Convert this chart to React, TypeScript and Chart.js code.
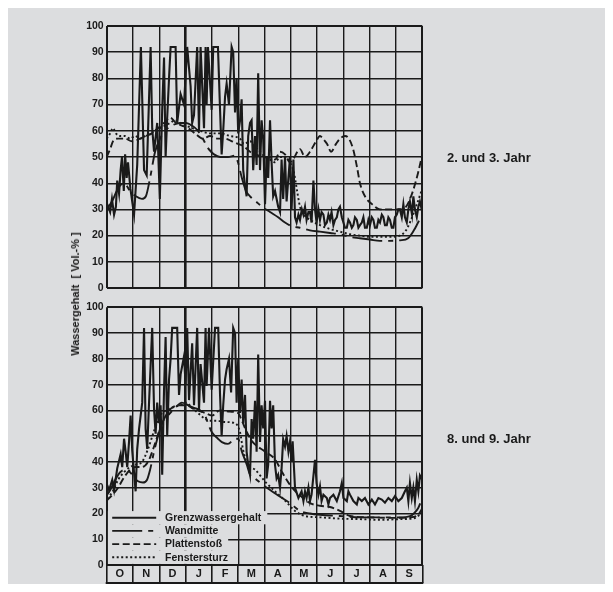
import React, { useEffect, useRef } from "react";
import { Chart, registerables } from "chart.js";
Chart.register(...registerables);

const FONT = "'Liberation Sans', Arial, Helvetica, sans-serif";
const INK = "#1a1a1a";
const BG = "#dcdddf";

// ---- labels ----
const monthLabels = ["O", "N", "D", "J", "F", "M", "A", "M", "J", "J", "A", "S"];
const panelTitles = ["2. und 3. Jahr", "8. und 9. Jahr"];
const seriesNames = ["Grenzwassergehalt", "Wandmitte", "Plattenstoß", "Fenstersturz"];
const yAxisTitle = "Wassergehalt  [ Vol.-% ]";
const yMin = 0;
const yMax = 100;
const yStep = 10;

// ---- data: [position in months from 1 Oct, water content Vol.-%] ----
const grenzOben: [number, number][] = [
  [0.02, 32], [0.13, 29], [0.2, 34], [0.28, 28], [0.35, 31], [0.4, 41], [0.47, 36], [0.53, 45], [0.58, 50], [0.65, 37],
  [0.7, 51], [0.76, 42], [0.81, 48], [0.9, 38], [1.04, 28], [1.16, 47], [1.3, 92], [1.42, 45], [1.52, 43], [1.67, 92],
  [1.73, 61], [1.8, 52], [1.92, 63], [2.02, 34], [2.11, 68], [2.18, 88], [2.24, 50], [2.3, 65], [2.37, 80], [2.43, 92],
  [2.62, 92], [2.68, 63], [2.81, 74], [2.94, 70], [3.06, 92], [3.19, 77], [3.25, 63], [3.32, 66], [3.44, 92], [3.51, 60],
  [3.57, 92], [3.7, 61], [3.76, 92], [3.8, 70], [3.85, 92], [3.99, 68], [4.05, 92], [4.23, 92], [4.31, 68], [4.37, 51],
  [4.43, 60], [4.5, 73], [4.56, 78], [4.65, 70], [4.75, 92], [4.81, 90], [4.88, 67], [4.94, 80], [5.0, 59], [5.07, 64],
  [5.13, 72], [5.19, 45], [5.26, 39], [5.32, 35], [5.38, 58], [5.45, 63], [5.51, 64], [5.57, 45], [5.64, 58], [5.7, 47],
  [5.76, 82], [5.83, 45], [5.89, 64], [5.95, 57], [6.02, 32], [6.08, 50], [6.14, 42], [6.21, 64], [6.27, 48], [6.33, 35],
  [6.4, 37], [6.52, 31], [6.59, 29], [6.65, 49], [6.71, 34], [6.78, 50], [6.84, 33], [6.97, 50], [7.03, 30], [7.1, 49],
  [7.16, 27], [7.22, 25], [7.29, 28], [7.35, 26], [7.42, 30], [7.48, 28], [7.54, 31], [7.6, 26], [7.67, 29], [7.73, 29],
  [7.79, 25], [7.86, 41], [7.92, 30], [7.98, 25], [8.05, 30], [8.11, 26], [8.17, 29], [8.24, 28], [8.3, 24], [8.37, 25],
  [8.43, 28], [8.49, 26], [8.55, 29], [8.62, 24], [8.68, 26], [8.75, 27], [8.81, 30], [8.87, 31], [8.94, 27], [9.0, 25],
  [9.06, 23], [9.13, 23], [9.19, 26], [9.25, 25], [9.32, 23], [9.38, 24], [9.44, 27], [9.51, 26], [9.57, 23], [9.63, 24],
  [9.7, 25], [9.76, 27], [9.82, 23], [9.89, 23], [9.95, 26], [10.01, 24], [10.08, 27], [10.14, 26], [10.2, 23], [10.27, 23],
  [10.33, 26], [10.39, 25], [10.46, 28], [10.52, 27], [10.58, 24], [10.65, 24], [10.71, 27], [10.77, 26], [10.84, 23], [10.9, 23],
  [10.96, 27], [11.03, 28], [11.09, 30], [11.15, 30], [11.22, 27], [11.28, 32], [11.34, 27], [11.41, 25], [11.47, 30], [11.53, 33],
  [11.61, 28], [11.66, 35], [11.72, 30], [11.79, 27], [11.85, 31], [11.91, 33], [12, 29],
];

const wandmitteOben: [number, number][] = [
  [0, 30], [0.2, 33], [0.43, 38], [0.66, 40], [0.89, 37], [1.11, 35], [1.34, 34], [1.49, 35], [1.65, 42], [1.84, 52],
  [2.03, 57], [2.22, 60], [2.48, 62], [2.79, 63], [3.02, 63], [3.24, 62], [3.47, 60], [3.66, 57], [3.81, 54], [3.97, 52],
  [4.08, 51], [4.31, 50], [4.61, 50], [4.88, 50.5], [4.99, 48], [5.14, 42], [5.3, 37], [5.45, 35], [5.68, 33], [5.91, 31],
  [6.21, 29], [6.52, 27], [6.78, 25], [7.05, 23.5], [7.35, 23], [7.73, 22], [8.11, 21.5], [8.49, 21], [8.87, 20.5], [9.25, 19.5],
  [9.63, 19], [10.01, 18.5], [10.39, 18], [10.77, 18], [11.15, 18.2], [11.46, 19], [11.68, 22], [11.84, 25], [12, 28],
];

const plattenstossOben: [number, number][] = [
  [0, 50], [0.13, 53], [0.24, 56], [0.43, 57], [0.7, 57], [0.96, 56], [1.27, 57], [1.49, 58], [1.72, 59], [1.95, 61],
  [2.18, 63], [2.41, 65], [2.64, 63], [2.86, 62], [3.09, 61], [3.36, 59], [3.66, 57], [3.93, 58], [4.23, 57], [4.5, 57],
  [4.76, 56], [4.99, 55], [5.22, 54], [5.45, 52], [5.68, 51], [5.91, 50], [6.13, 50], [6.4, 49], [6.59, 52], [6.78, 51],
  [6.97, 48], [7.08, 49], [7.35, 53], [7.54, 50], [7.73, 52], [7.96, 56], [8.11, 58], [8.22, 57], [8.38, 55], [8.53, 52],
  [8.72, 55], [8.87, 57], [9.06, 58], [9.21, 57], [9.37, 53], [9.52, 46], [9.63, 40], [9.82, 35], [10.09, 32], [10.39, 30],
  [10.77, 30], [11.15, 30], [11.38, 31], [11.61, 36], [11.84, 44], [12, 51],
];

const fenstersturzOben: [number, number][] = [
  [0, 57], [0.13, 59], [0.24, 61], [0.35, 59], [0.51, 58], [0.7, 58], [0.89, 57], [1.08, 58], [1.27, 57], [1.46, 58],
  [1.65, 59], [1.84, 60], [2.03, 61], [2.22, 62], [2.41, 63], [2.6, 64], [2.79, 63], [3.02, 62], [3.24, 61], [3.55, 60],
  [3.93, 59], [4.31, 59], [4.69, 58], [5.07, 57], [5.22, 55], [5.45, 56], [5.64, 54], [5.83, 52], [6.02, 50], [6.21, 49],
  [6.4, 48], [6.59, 50], [6.78, 50], [6.97, 48], [7.12, 44], [7.24, 37], [7.35, 31], [7.5, 28], [7.73, 26], [8.11, 24],
  [8.49, 22.5], [8.87, 21.5], [9.25, 20.5], [9.63, 20], [10.01, 19.5], [10.39, 19.5], [10.77, 19.5], [11.15, 20], [11.38, 22], [11.53, 25],
  [11.76, 31], [12, 38],
];

const grenzUnten: [number, number][] = [
  [0.02, 31], [0.09, 29], [0.21, 33], [0.28, 29], [0.4, 37.5], [0.53, 43], [0.59, 38], [0.66, 49], [0.72, 44], [0.78, 38],
  [0.85, 48], [0.91, 58], [0.97, 44.5], [1.1, 28.6], [1.16, 45], [1.23, 52.8], [1.35, 63], [1.42, 92], [1.48, 52.8], [1.54, 45],
  [1.61, 63], [1.73, 92], [1.8, 60.6], [1.86, 51], [1.92, 63], [1.99, 55], [2.05, 62], [2.11, 35], [2.18, 68], [2.24, 88.5],
  [2.3, 50], [2.37, 72], [2.43, 80], [2.49, 92], [2.68, 92], [2.75, 66], [2.81, 74], [2.94, 81], [3.0, 70], [3.06, 92],
  [3.13, 64], [3.25, 86], [3.32, 62], [3.44, 92], [3.51, 60], [3.57, 78], [3.7, 63], [3.76, 92], [3.8, 69.5], [3.89, 92],
  [3.99, 68], [4.12, 92], [4.24, 92], [4.31, 66], [4.37, 50], [4.43, 62], [4.5, 72], [4.56, 76], [4.65, 80], [4.73, 67],
  [4.81, 92], [4.88, 90], [4.94, 63], [5.0, 80], [5.07, 59], [5.13, 72], [5.19, 55], [5.26, 66], [5.32, 44], [5.38, 38.8],
  [5.45, 35], [5.51, 56.6], [5.57, 49], [5.64, 63.7], [5.7, 44], [5.76, 81.7], [5.83, 47.7], [5.89, 62], [5.95, 53], [6.02, 63.7],
  [6.08, 33.6], [6.14, 38.8], [6.21, 63.7], [6.27, 53], [6.33, 62], [6.4, 38.8], [6.46, 33.6], [6.52, 35], [6.59, 30], [6.65, 37.5],
  [6.71, 48.8], [6.78, 46], [6.84, 50], [6.91, 44], [6.97, 48], [7.03, 40], [7.07, 48], [7.16, 30], [7.29, 26], [7.41, 28.6],
  [7.48, 24.8], [7.54, 28.6], [7.6, 26], [7.67, 30], [7.73, 24.8], [7.79, 27.3], [7.92, 40.8], [7.98, 31.8], [8.05, 27.3], [8.11, 30.5],
  [8.17, 24.8], [8.24, 27.3], [8.37, 26], [8.43, 23.5], [8.49, 26], [8.62, 27.3], [8.75, 24.8], [8.87, 28.6], [8.94, 31.8], [9.0, 26],
  [9.13, 24.8], [9.19, 28.6], [9.25, 27.3], [9.38, 24.8], [9.51, 23.5], [9.57, 26], [9.7, 24.8], [9.82, 26], [9.95, 23.5], [10.08, 25.4],
  [10.2, 23.5], [10.33, 26], [10.46, 25.4], [10.58, 24.2], [10.71, 26], [10.84, 24.8], [10.96, 26.7], [11.09, 24.8], [11.22, 26], [11.34, 28.6],
  [11.41, 30], [11.47, 24.8], [11.53, 31.8], [11.6, 26], [11.66, 30], [11.72, 24.8], [11.79, 33], [11.85, 28.6], [11.91, 34.7], [12, 33],
];

const wandmitteUnten: [number, number][] = [
  [0, 27], [0.13, 29], [0.32, 33], [0.51, 36], [0.7, 37], [0.89, 36], [1.04, 34], [1.19, 32.5], [1.38, 32], [1.53, 33],
  [1.65, 37], [1.8, 44], [1.95, 50], [2.1, 55], [2.33, 58], [2.6, 61], [2.86, 63], [3.09, 62], [3.32, 61], [3.55, 60],
  [3.74, 58], [3.85, 55], [4.0, 51.5], [4.23, 49], [4.38, 47.7], [4.61, 47], [4.88, 49], [4.99, 49], [5.14, 44], [5.33, 38.8],
  [5.45, 35], [5.64, 33.6], [5.83, 32], [6.02, 30.5], [6.52, 27], [6.97, 24], [7.35, 21], [7.73, 20], [8.11, 19.5], [8.87, 19],
  [9.63, 18.5], [10.39, 18.5], [11.15, 18.5], [11.53, 19], [11.68, 20], [11.84, 22], [12, 26],
];

const plattenstossUnten: [number, number][] = [
  [0, 25], [0.2, 27], [0.43, 30], [0.66, 34], [0.89, 37], [1.11, 38], [1.34, 38], [1.57, 40], [1.8, 46], [2.03, 53],
  [2.25, 58], [2.48, 61], [2.79, 62], [3.02, 62], [3.24, 61], [3.47, 60], [3.74, 59], [4.0, 58], [4.31, 60], [4.69, 59.5],
  [4.99, 59], [5.14, 56], [5.33, 51.5], [5.53, 48], [6.02, 44], [6.4, 41], [6.67, 36], [7.05, 30], [7.35, 27], [7.73, 24],
  [8.11, 23], [8.49, 22.5], [8.87, 21], [9.25, 19], [10.01, 18.5], [10.77, 18.3], [11.53, 18.5], [11.84, 19.5], [12, 22],
];

const fenstersturzUnten: [number, number][] = [
  [0, 26], [0.2, 28], [0.43, 33], [0.66, 36], [0.89, 38], [1.11, 39], [1.34, 40], [1.57, 45], [1.8, 52], [2.03, 58],
  [2.25, 60], [2.48, 61], [2.79, 62], [3.02, 63], [3.24, 61], [3.47, 59], [3.7, 57], [3.93, 56], [4.16, 56], [4.5, 55.5],
  [4.88, 55], [5.07, 51.5], [5.18, 45], [5.37, 38.8], [5.64, 37], [6.02, 32.4], [6.4, 28.6], [6.78, 25], [7.16, 21], [7.54, 19],
  [8.11, 18.5], [8.87, 18], [9.63, 17.8], [10.39, 17.5], [11.15, 17.8], [11.61, 18], [11.84, 19], [12, 21],
];

// ---- styling ----
const dashes: number[][] = [[], [30, 6, 5, 6], [7, 3.5], [2, 2.5]];
const widths = [2.1, 1.9, 1.9, 1.9];

function makeDatasets(series: [number, number][][]) {
  return series.map((pts, i) => ({
    label: seriesNames[i],
    data: pts.map(([x, y]) => ({ x, y })),
    borderColor: INK,
    borderWidth: widths[i],
    borderDash: dashes[i],
    pointRadius: 0,
    fill: false,
    tension: i === 0 ? 0 : 0.3,
    cubicInterpolationMode: i === 0 ? "default" : "monotone",
  }));
}

const panelLabelPlugin = (text: string, dy: number) => ({
  id: "panelLabel",
  afterDraw(chart: any) {
    const { ctx, chartArea: a } = chart;
    ctx.save();
    ctx.font = `bold 13px ${FONT}`;
    ctx.fillStyle = INK;
    ctx.textAlign = "left";
    ctx.textBaseline = "middle";
    ctx.fillText(text, a.right + 24.7, (a.top + a.bottom) / 2 + dy);
    ctx.restore();
  },
});

const legendPlugin = {
  id: "boxLegend",
  afterDatasetsDraw(chart: any) {
    const { ctx, chartArea: a } = chart;
    ctx.save();
    ctx.font = `bold 10.5px ${FONT}`;
    chart.data.datasets.forEach((ds: any, i: number) => {
      const y = a.bottom - 7.7 - (3 - i) * 13.2;
      const tx = a.left + 58.3;
      const w = ctx.measureText(ds.label).width;
      ctx.fillStyle = BG;
      ctx.fillRect(a.left + 1.2, y - 6.6, tx + w + 6 - a.left - 1.2, 13.2);
      ctx.strokeStyle = INK;
      ctx.lineWidth = 1.9;
      ctx.setLineDash(ds.borderDash || []);
      ctx.beginPath();
      ctx.moveTo(a.left + 5.5, y);
      ctx.lineTo(a.left + (i === 1 ? 46.5 : 49.5), y);
      ctx.stroke();
      ctx.setLineDash([]);
      ctx.fillStyle = INK;
      ctx.textAlign = "left";
      ctx.textBaseline = "middle";
      ctx.fillText(ds.label, tx, y + 0.5);
    });
    ctx.restore();
  },
};

const monthRowPlugin = {
  id: "monthRowFrame",
  afterDraw(chart: any) {
    const { ctx, chartArea: a } = chart;
    ctx.save();
    ctx.strokeStyle = INK;
    ctx.lineWidth = 2;
    ctx.beginPath();
    ctx.moveTo(a.left - 1, a.bottom + 18);
    ctx.lineTo(a.right + 1, a.bottom + 18);
    ctx.stroke();
    ctx.restore();
  },
};

function makeConfig(series: [number, number][][], title: string, bottom: boolean): any {
  const scales: any = {
    x: {
      type: "linear",
      min: 0,
      max: monthLabels.length,
      afterBuildTicks: (s: any) => {
        s.ticks = monthLabels.map((_, i) => ({ value: i })).concat([{ value: monthLabels.length }]);
      },
      ticks: { display: false },
      border: { display: false },
      grid: {
        color: INK,
        drawTicks: false,
        lineWidth: (c: any) => {
          const v = c.tick ? c.tick.value : -1;
          if (v === 3) return 2.6;
          if (v === 0 || v === monthLabels.length) return 2;
          return 1.4;
        },
      },
      afterFit: (s: any) => {
        s.height = 0;
      },
    },
    y: {
      type: "linear",
      min: yMin,
      max: yMax,
      ticks: {
        stepSize: yStep,
        padding: 3,
        color: INK,
        font: { family: FONT, size: 10.5, weight: "bold" },
      },
      border: { display: false },
      grid: {
        color: INK,
        drawTicks: false,
        lineWidth: (c: any) => {
          const v = c.tick ? c.tick.value : -1;
          return v === yMin || v === yMax ? 2 : 1.4;
        },
      },
      afterFit: (s: any) => {
        s.width = 98.7;
      },
    },
  };
  if (bottom) {
    scales.x2 = {
      type: "category",
      labels: monthLabels,
      position: "bottom",
      offset: true,
      border: { display: false },
      grid: {
        offset: true,
        drawOnChartArea: false,
        drawTicks: true,
        tickLength: 18,
        color: INK,
        lineWidth: 1.6,
      },
      ticks: {
        padding: -15.6,
        color: INK,
        font: { family: FONT, size: 11, weight: "bold" },
        maxRotation: 0,
        autoSkip: false,
      },
      afterFit: (s: any) => {
        s.height = 18;
      },
    };
  }
  const plugins: any[] = [panelLabelPlugin(title, bottom ? 3 : 1)];
  if (bottom) plugins.push(legendPlugin, monthRowPlugin);
  return {
    type: "line",
    data: { datasets: makeDatasets(series) },
    options: {
      responsive: false,
      animation: false,
      layout: {
        padding: bottom
          ? { top: 5, bottom: 1, left: 0, right: 182.7 }
          : { top: 18, bottom: 10, left: 0, right: 182.7 },
      },
      scales,
      plugins: {
        legend: { display: false },
        tooltip: { enabled: false },
      },
    },
    plugins,
  };
}

export default function App() {
  const topRef = useRef<HTMLCanvasElement | null>(null);
  const bottomRef = useRef<HTMLCanvasElement | null>(null);

  useEffect(() => {
    const charts: Chart[] = [];
    if (topRef.current) {
      charts.push(
        new Chart(
          topRef.current,
          makeConfig([grenzOben, wandmitteOben, plattenstossOben, fenstersturzOben], panelTitles[0], false)
        )
      );
    }
    if (bottomRef.current) {
      charts.push(
        new Chart(
          bottomRef.current,
          makeConfig([grenzUnten, wandmitteUnten, plattenstossUnten, fenstersturzUnten], panelTitles[1], true)
        )
      );
    }
    return () => charts.forEach((c) => c.destroy());
  }, []);

  return (
    <div style={{ position: "relative", width: 597, height: 576, background: BG, overflow: "hidden" }}>
      <canvas ref={topRef} width={597} height={290} style={{ position: "absolute", left: 0, top: 0 }} />
      <canvas ref={bottomRef} width={597} height={286} style={{ position: "absolute", left: 0, top: 290 }} />
      <div
        style={{
          position: "absolute",
          left: 67,
          top: 286,
          transform: "translate(-50%, -50%) rotate(-90deg)",
          whiteSpace: "pre",
          font: `bold 11px ${FONT}`,
          color: INK,
          lineHeight: "12px",
        }}
      >
        {yAxisTitle}
      </div>
    </div>
  );
}
